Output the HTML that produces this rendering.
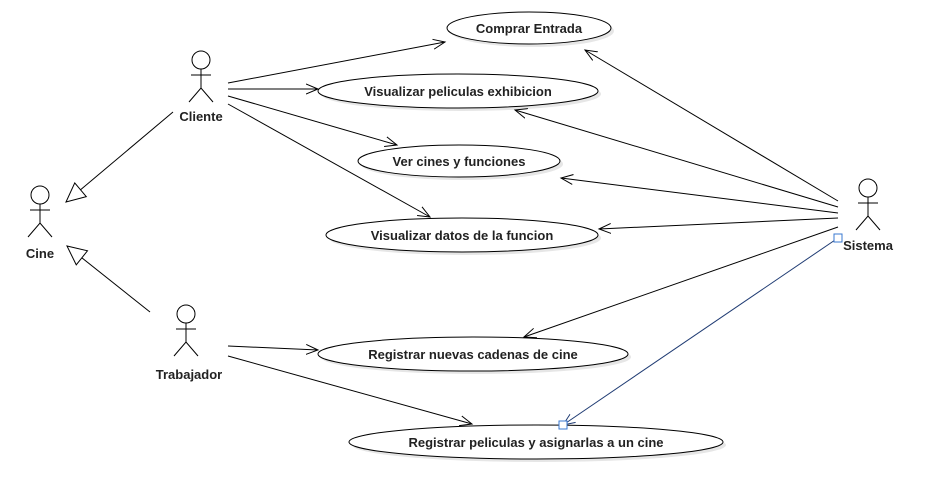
<!DOCTYPE html>
<html><head><style>
body{margin:0;background:#fff}
svg{display:block}
text{font-family:"Liberation Sans",sans-serif;font-size:13px;font-weight:bold;fill:#222;text-anchor:middle}
</style></head><body>
<svg width="933" height="489" viewBox="0 0 933 489" xmlns="http://www.w3.org/2000/svg">
<defs>
<marker id="a" markerWidth="14" markerHeight="12" refX="12" refY="6" orient="auto" markerUnits="userSpaceOnUse">
<path d="M0,1 L12,6 L0,11" fill="none" stroke="#000" stroke-width="1"/></marker>
<marker id="ab" markerWidth="14" markerHeight="12" refX="12" refY="6" orient="auto" markerUnits="userSpaceOnUse">
<path d="M0,1 L12,6 L0,11" fill="none" stroke="#1f3b73" stroke-width="1"/></marker>
<marker id="g" markerWidth="22" markerHeight="22" refX="20" refY="11" orient="auto" markerUnits="userSpaceOnUse">
<path d="M1,2 L20,11 L1,20 Z" fill="#fff" stroke="#000" stroke-width="1"/></marker>
<g id="act"><circle cx="0" cy="0" r="9"/><path d="M0,9 V28 M-10,15 H10 M-12,42 L0,28 L12,42"/></g>
</defs>
<g fill="#e6e6e6" stroke="none">
<ellipse cx="532" cy="31" rx="82" ry="16"/>
<ellipse cx="461" cy="94" rx="140" ry="17"/>
<ellipse cx="462" cy="164" rx="101" ry="16"/>
<ellipse cx="465" cy="238" rx="136" ry="17"/>
<ellipse cx="476" cy="357" rx="155" ry="17"/>
<ellipse cx="539" cy="445" rx="187" ry="17"/>
</g>
<g fill="#fff" stroke="#000" stroke-width="1">
<ellipse cx="529" cy="28" rx="82" ry="16"/>
<ellipse cx="458" cy="91" rx="140" ry="17"/>
<ellipse cx="459" cy="161" rx="101" ry="16"/>
<ellipse cx="462" cy="235" rx="136" ry="17"/>
<ellipse cx="473" cy="354" rx="155" ry="17"/>
<ellipse cx="536" cy="442" rx="187" ry="17"/>
</g>
<g fill="none" stroke="#000" stroke-width="1">
<use href="#act" x="201" y="60"/>
<use href="#act" x="40" y="195"/>
<use href="#act" x="186" y="314"/>
<use href="#act" x="868" y="188"/>
<line x1="228" y1="83" x2="445" y2="42" marker-end="url(#a)"/>
<line x1="228" y1="89" x2="318" y2="89" marker-end="url(#a)"/>
<line x1="228" y1="96" x2="397" y2="145" marker-end="url(#a)"/>
<line x1="228" y1="104" x2="430" y2="217" marker-end="url(#a)"/>
<line x1="173" y1="112" x2="66" y2="202" marker-end="url(#g)"/>
<line x1="150" y1="312" x2="67" y2="246" marker-end="url(#g)"/>
<line x1="228" y1="346" x2="318" y2="350" marker-end="url(#a)"/>
<line x1="228" y1="356" x2="472" y2="424" marker-end="url(#a)"/>
<line x1="838" y1="201" x2="585" y2="50" marker-end="url(#a)"/>
<line x1="838" y1="207" x2="515" y2="110" marker-end="url(#a)"/>
<line x1="838" y1="213" x2="561" y2="178" marker-end="url(#a)"/>
<line x1="838" y1="218" x2="599" y2="229" marker-end="url(#a)"/>
<line x1="838" y1="227" x2="524" y2="337" marker-end="url(#a)"/>
<line x1="838" y1="238" x2="563" y2="425" stroke="#1f3b73" marker-end="url(#ab)"/>
<rect x="834" y="234" width="8" height="8" fill="#fff" stroke="#3a78d0"/>
<rect x="559" y="421" width="8" height="8" fill="#fff" stroke="#3a78d0"/>
</g>
<text x="529" y="33">Comprar Entrada</text>
<text x="458" y="96">Visualizar peliculas exhibicion</text>
<text x="459" y="166">Ver cines y funciones</text>
<text x="462" y="240">Visualizar datos de la funcion</text>
<text x="473" y="359">Registrar nuevas cadenas de cine</text>
<text x="536" y="447">Registrar peliculas y asignarlas a un cine</text>
<text x="201" y="121">Cliente</text>
<text x="40" y="258">Cine</text>
<text x="189" y="379">Trabajador</text>
<text x="868" y="250">Sistema</text>
</svg>
</body></html>
